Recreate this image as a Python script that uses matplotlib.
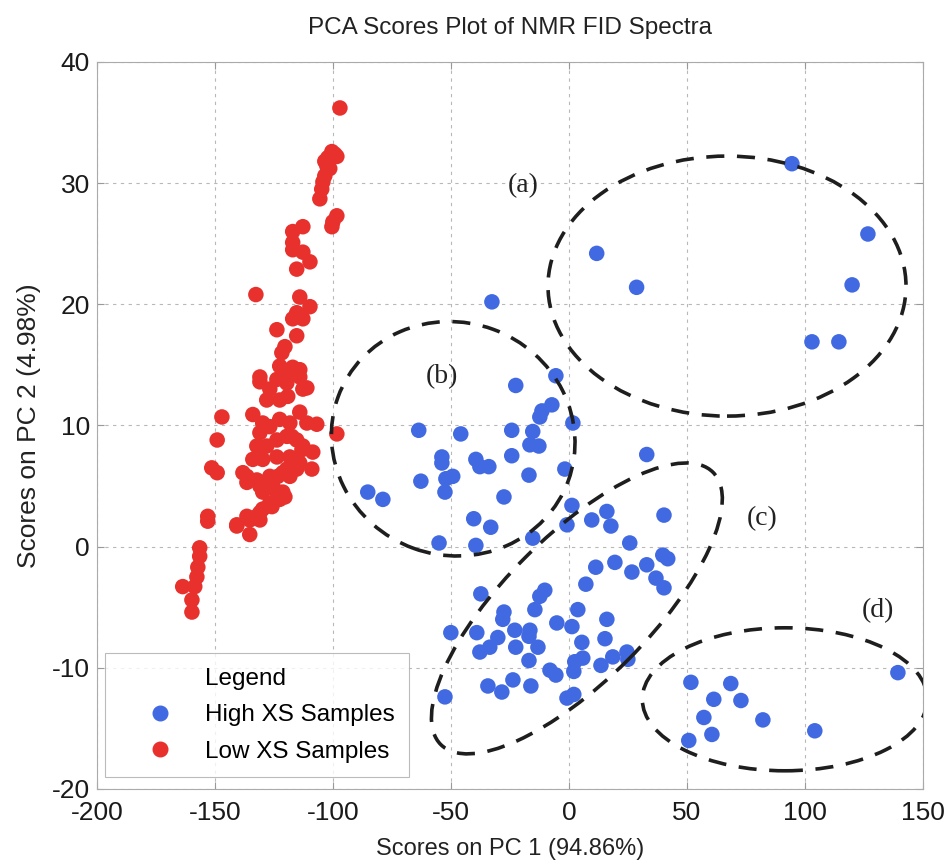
import matplotlib.pyplot as plt
import matplotlib.transforms as transforms
from matplotlib.patches import Ellipse
from matplotlib.lines import Line2D

plt.rcParams['font.family'] = ['Liberation Sans', 'DejaVu Sans']
plt.rcParams['axes.unicode_minus'] = False

# High XS samples (blue)
high_x = [94.5, 11.8, 28.7, 126.7, 120, 103, 114.4,
          -32.6,
          -5.5, -22.5, -7.2, -11.4, -12.3, 1.7, -63.6, -45.8, -24.2, -15.3, -16.5, -12.7,
          -53.8, -53.8, -39.4, -37.7, -33.9, -24.2, -1.7, -16.9, -62.7, -52.1, -49.2, -52.5,
          -85.2, -78.8, -27.5, 1.3, -0.8, -40.3, -33.1, -55, -39.4, -15.3,
          33, 9.7, 16.1, 17.8, 40.3, 25.8, 39.8, 41.9, 11.4, 19.5, 26.7, 33, 36.9, 40.3,
          7.2, -37.3, -10.2, -12.3, -14.4, 3.8, 16.1, -27.5, -28, -22.9, -16.5, -16.9,
          -5.1, 1.3, -50, -39, -30.1, -37.7, -33.5, -22.5, -13.1, 5.5, 15.3, 18.6, 24.6,
          25, 13.6, -16.9, 2.5, 5.9, 2.1, -8, -5.5, -23.7, -34.3, -28.4, -16.1, -0.8, 2.1,
          -52.5,
          139.4, 51.7, 68.6, 61.4, 72.9, 57.2, 82.2, 104.2, 60.6, 50.8]
high_y = [31.6, 24.2, 21.4, 25.8, 21.6, 16.9, 16.9,
          20.2,
          14.1, 13.3, 11.7, 11.2, 10.7, 10.2, 9.6, 9.3, 9.6, 9.5, 8.4, 8.3,
          7.4, 6.9, 7.2, 6.6, 6.6, 7.5, 6.4, 5.9, 5.4, 5.6, 5.8, 4.5,
          4.5, 3.9, 4.1, 3.4, 1.8, 2.3, 1.6, 0.3, 0.1, 0.7,
          7.6, 2.2, 2.9, 1.7, 2.6, 0.3, -0.7, -1.0, -1.7, -1.3, -2.1, -1.5, -2.6, -3.4,
          -3.1, -3.9, -3.6, -4.1, -5.2, -5.2, -6.0, -5.4, -6.0, -6.9, -6.9, -7.4,
          -6.3, -6.6, -7.1, -7.1, -7.5, -8.7, -8.3, -8.3, -8.3, -7.9, -7.6, -9.1, -8.7,
          -9.3, -9.8, -9.4, -9.5, -9.2, -10.3, -10.2, -10.6, -11.0, -11.5, -12.0, -11.5, -12.5, -12.2,
          -12.4,
          -10.4, -11.2, -11.3, -12.6, -12.7, -14.1, -14.3, -15.2, -15.5, -16.0]

# Low XS samples (red)
low_x = [-97,
         -100.4, -99.2, -102.1, -98.3, -102.5, -103.4, -104.2, -104.7, -105.5, -103.4, -101.3,
         -98.3, -100, -100.4, -117, -112.7,
         -117, -117, -112.7, -109.7, -115.3,
         -132.6,
         -114, -109.7, -115.3, -117, -112.7, -123.7, -115.3, -120.3, -121.6,
         -122.5, -117, -114, -130.9,
         -119.5, -123.7, -130.9, -111, -126.7, -122.5, -119.1, -128, -119.5, -114, -112.7,
         -133.9, -129.7, -130.9, -126.7, -122.5, -118.2, -114.0, -111.0, -106.8, -132.2,
         -128.0, -123.7, -119.5, -115.3, -112.7, -108.5, -133.9, -129.7, -123.7, -118.2,
         -114.0, -108.9, -116.9, -136.4, -132.2, -126.7, -121.2, -136.4, -130.9, -125.4,
         -121.2, -129.7, -122.5, -126.7, -130.9, -135.2, -140.7, -135.2, -130.9, -138.1,
         -117.4, -113.1, -119.5, -115.3, -123.3, -118.2, -123.7, -120.3, -125.8, -129.7,
         -132.2, -136.4, -140.7,
         -147, -149, -151.3, -149, -153, -153,
         -156.4, -156.4, -157.2, -157.6, -158.5, -159.7, -159.7, -163.6,
         -98.3]
low_y = [36.2,
         32.6, 32.4, 32.1, 32.2, 31.4, 30.6, 30.1, 29.5, 28.7, 31.8, 31.2,
         27.3, 26.8, 26.4, 26.0, 26.4,
         25.1, 24.5, 24.3, 23.5, 22.9,
         20.8,
         20.6, 19.8, 19.3, 18.8, 18.8, 17.9, 17.4, 16.5, 16.0,
         14.9, 14.8, 14.6, 14.0,
         14.4, 13.8, 13.6, 13.1, 13.0, 12.1, 12.4, 12.1, 13.5, 14.0, 13.0,
         10.9, 10.2, 9.4, 9.9, 10.5, 10.2, 11.1, 10.2, 10.1, 8.3,
         8.3, 8.8, 9.1, 8.8, 8.3, 7.8, 7.2, 7.2, 7.4, 7.4,
         6.9, 6.4, 6.4, 5.8, 5.5, 5.8, 6.1, 5.3, 5.0, 5.0,
         4.5, 4.5, 3.9, 3.6, 2.8, 2.2, 1.7, 1.0, 2.2, 6.1,
         9.1, 8.0, 6.4, 6.4, 5.8, 5.8, 4.5, 4.1, 3.3, 3.1,
         2.5, 2.5, 1.8,
         10.7, 8.8, 6.5, 6.1, 2.5, 2.1,
         -0.1, -0.8, -1.7, -2.5, -3.3, -4.4, -5.4, -3.3,
         9.3]

# hand drawn group outlines: label, centre (data), size in pixels, angle
group_names = ['(a)', '(b)', '(c)', '(d)']
group_cx = [67, -49, 3.4, 91.5]
group_cy = [21.5, 8.9, -5.1, -12.6]
group_w = [358, 245, 385, 285]
group_h = [260, 233, 145, 143]
group_ang = [0, -20, 45, 0]
label_x = [-19.5, -53.8, 81.8, 131]
label_y = [29.8, 14.0, 2.3, -5.3]

fig = plt.figure(figsize=(9.49, 8.6), dpi=100)
ax = fig.add_axes([0.102, 0.0826, 0.8705, 0.8454])

ax.scatter(high_x, high_y, s=125, color='#4169e1', edgecolors='none', zorder=3)
ax.scatter(low_x, low_y, s=125, color='#e8302c', edgecolors='none', zorder=3)

for i in range(len(group_names)):
    trans = fig.dpi_scale_trans + transforms.ScaledTranslation(group_cx[i], group_cy[i], ax.transData)
    e = Ellipse((0, 0), group_w[i] / 100, group_h[i] / 100, angle=group_ang[i],
                fill=False, edgecolor='#1e1e1e', linewidth=2.6, linestyle=(0, (5, 3.5)),
                transform=trans, zorder=4)
    ax.add_patch(e)
    ax.text(label_x[i], label_y[i], group_names[i], fontsize=20, family='Liberation Serif',
            ha='center', va='center', color='#222222')

ax.set_xlim(-200, 150)
ax.set_ylim(-20, 40)
ax.set_xticks(range(-200, 151, 50))
ax.set_yticks(range(-20, 41, 10))
ax.grid(True, linestyle=(0, (3, 4)), color='#b8b8b8', linewidth=0.8)
ax.tick_params(direction='in', top=True, right=True, length=5, color='#999999',
               labelsize=19, labelcolor='#1a1a1a')
ax.tick_params(axis='x', pad=9)
ax.tick_params(axis='y', pad=5)
for sp in ax.spines.values():
    sp.set_color('#aaaaaa')

ax.set_title('PCA Scores Plot of NMR FID Spectra', fontsize=17.5, color='#222222', pad=20)
ax.set_xlabel('Scores on PC 1 (94.86%)', fontsize=17, color='#222222', labelpad=9)
ax.set_ylabel('Scores on PC 2 (4.98%)', fontsize=19, color='#222222', labelpad=8)

handles = [Line2D([], [], linestyle='none', marker=None),
           Line2D([], [], linestyle='none', marker='o', markersize=10.5, color='#4169e1'),
           Line2D([], [], linestyle='none', marker='o', markersize=10.5, color='#e8302c')]
leg = ax.legend(handles, ['Legend', 'High XS Samples', 'Low XS Samples'],
                loc='lower left', bbox_to_anchor=(0.01, 0.016), borderaxespad=0,
                fontsize=17.5, frameon=True, fancybox=False, edgecolor='#aaaaaa',
                handletextpad=0.2, borderpad=0.6, labelspacing=0.6, handlelength=3.3)
leg.get_frame().set_linewidth(0.8)

fig.savefig('out.png', dpi=100)
